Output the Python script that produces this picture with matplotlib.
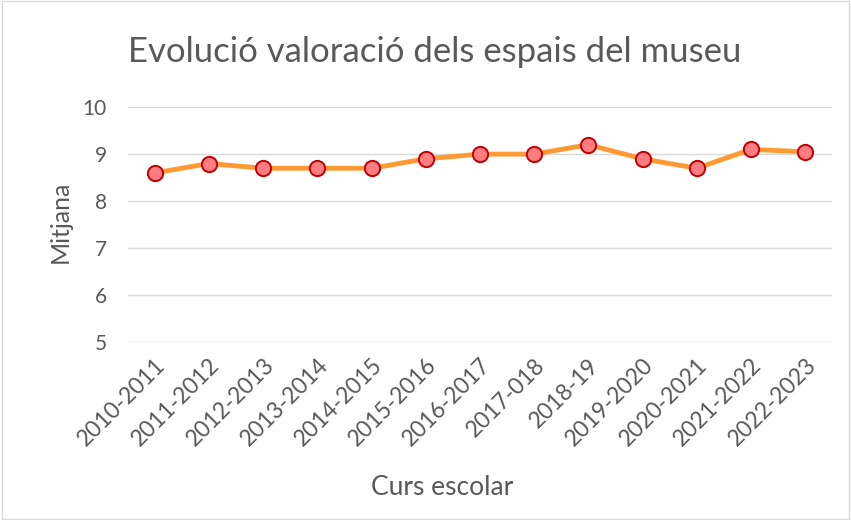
import matplotlib.pyplot as plt
from matplotlib.patches import Rectangle

plt.rcParams['font.family'] = ['Lato', 'DejaVu Sans']

cursos = ['2010-2011', '2011-2012', '2012-2013', '2013-2014', '2014-2015', '2015-2016',
          '2016-2017', '2017-018', '2018-19', '2019-2020', '2020-2021', '2021-2022', '2022-2023']
mitjana = [8.6, 8.8, 8.7, 8.7, 8.7, 8.9, 9.0, 9.0, 9.2, 8.9, 8.7, 9.1, 9.05]

text_color = '#595959'

fig = plt.figure(figsize=(8.51, 5.2), dpi=100)
fig.patches.append(Rectangle((0.002, 0.002), 0.996, 0.996, transform=fig.transFigure,
                             fill=False, edgecolor='#D9D9D9', linewidth=1))
ax = fig.add_axes([0.150, 0.342, 0.828, 0.452])

x = range(len(cursos))
ax.plot(x, mitjana, color='#FF9933', linewidth=3.5, marker='o', markersize=11,
        markerfacecolor='#FF7C80', markeredgecolor='#C00000', markeredgewidth=1.4, zorder=3)

ax.set_xlim(-0.5, len(cursos) - 0.5)
ax.set_ylim(5, 10)
ax.set_yticks([5, 6, 7, 8, 9, 10])
ax.set_xticks(list(x))
ax.set_xticklabels(cursos, rotation=45, ha='right', rotation_mode='anchor')
ax.tick_params(axis='both', length=0, colors=text_color)
ax.tick_params(axis='x', pad=9, labelsize=16.5)
ax.tick_params(axis='y', pad=15, labelsize=15)
ax.grid(axis='y', color='#D9D9D9', linewidth=1)
ax.set_axisbelow(True)
for s in ax.spines.values():
    s.set_visible(False)

fig.text(0.071, 0.573, 'Mitjana', fontsize=18, color=text_color, rotation=90,
         ha='center', va='center')
fig.text(0.519, 0.063, 'Curs escolar', fontsize=19, color=text_color, ha='center', va='center')
fig.text(0.511, 0.9, 'Evolució valoració dels espais del museu', fontsize=25,
         color=text_color, ha='center', va='center')

fig.savefig('out.png', dpi=100)
